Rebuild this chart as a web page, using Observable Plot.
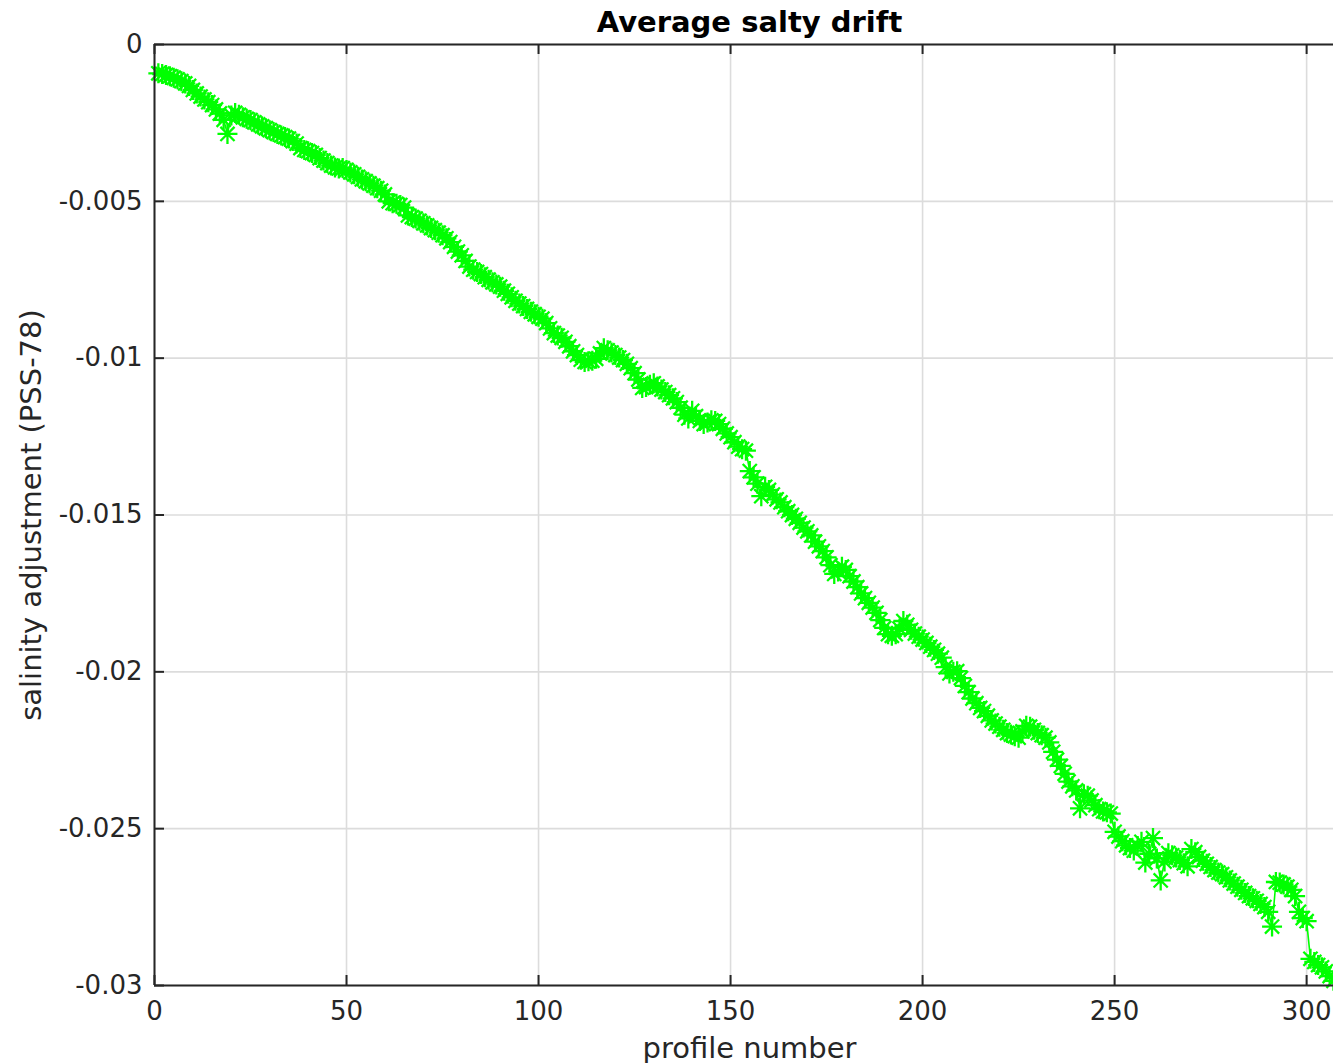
<!DOCTYPE html>
<html>
<head>
<meta charset="utf-8">
<script src="https://cdn.jsdelivr.net/npm/d3@7"></script>
<script src="https://cdn.jsdelivr.net/npm/@observablehq/plot@0.6"></script>
<style>
  html, body { margin: 0; padding: 0; background: #fff; overflow: hidden; }
  #chart svg { display: block; }
</style>
</head>
<body>
<div id="chart"></div>
<script>
const title = "Average salty drift";
const xLabel = "profile number";
const yLabel = "salinity adjustment (PSS-78)";
const xTicks = [0, 50, 100, 150, 200, 250, 300];
const yTicks = [0, -0.005, -0.01, -0.015, -0.02, -0.025, -0.03];
const xDomain = [0, 307];
const yDomain = [-0.03, 0];

const drift = [
  -0.00092,-0.00094,-0.00097,-0.00101,-0.00106,-0.00111,-0.00117,-0.00124,-0.00132,-0.00145,
  -0.00156,-0.00166,-0.00175,-0.00184,-0.00193,-0.00207,-0.00220,-0.00240,-0.00285,-0.00226,
  -0.00218,-0.00224,-0.00232,-0.00237,-0.00241,-0.00248,-0.00255,-0.00261,-0.00267,-0.00273,
  -0.00279,-0.00285,-0.00290,-0.00295,-0.00300,-0.00308,-0.00316,-0.00330,-0.00336,-0.00340,
  -0.00346,-0.00352,-0.00362,-0.00370,-0.00378,-0.00386,-0.00392,-0.00395,-0.00394,-0.00400,
  -0.00408,-0.00414,-0.00422,-0.00430,-0.00436,-0.00443,-0.00450,-0.00458,-0.00466,-0.00478,
  -0.00500,-0.00506,-0.00508,-0.00512,-0.00520,-0.00545,-0.00550,-0.00555,-0.00562,-0.00570,
  -0.00577,-0.00585,-0.00592,-0.00600,-0.00608,-0.00618,-0.00630,-0.00645,-0.00660,-0.00672,
  -0.00690,-0.00708,-0.00718,-0.00725,-0.00732,-0.00742,-0.00750,-0.00758,-0.00765,-0.00772,
  -0.00785,-0.00795,-0.00806,-0.00817,-0.00826,-0.00834,-0.00843,-0.00852,-0.00860,-0.00868,
  -0.00874,-0.00888,-0.00905,-0.00920,-0.00928,-0.00935,-0.00948,-0.00962,-0.00978,-0.00990,
  -0.01005,-0.01012,-0.01010,-0.01008,-0.01002,-0.00985,-0.00968,-0.00975,-0.00982,-0.00990,
  -0.00998,-0.01006,-0.01018,-0.01032,-0.01048,-0.01068,-0.01095,-0.01092,-0.01085,-0.01080,
  -0.01090,-0.01100,-0.01108,-0.01118,-0.01128,-0.01140,-0.01158,-0.01180,-0.01192,-0.01168,
  -0.01185,-0.01200,-0.01210,-0.01205,-0.01198,-0.01200,-0.01210,-0.01225,-0.01240,-0.01252,
  -0.01268,-0.01282,-0.01290,-0.01295,-0.01360,-0.01380,-0.01400,-0.01440,-0.01410,-0.01420,
  -0.01435,-0.01450,-0.01460,-0.01475,-0.01488,-0.01500,-0.01512,-0.01525,-0.01540,-0.01552,
  -0.01565,-0.01585,-0.01600,-0.01615,-0.01635,-0.01660,-0.01688,-0.01680,-0.01665,-0.01675,
  -0.01695,-0.01712,-0.01730,-0.01750,-0.01765,-0.01780,-0.01795,-0.01812,-0.01835,-0.01860,
  -0.01880,-0.01885,-0.01880,-0.01862,-0.01838,-0.01850,-0.01866,-0.01878,-0.01888,-0.01897,
  -0.01908,-0.01920,-0.01930,-0.01942,-0.01955,-0.01985,-0.02005,-0.02000,-0.01998,-0.02020,
  -0.02045,-0.02065,-0.02085,-0.02100,-0.02115,-0.02125,-0.02140,-0.02155,-0.02165,-0.02175,
  -0.02185,-0.02195,-0.02200,-0.02205,-0.02210,-0.02190,-0.02172,-0.02175,-0.02185,-0.02195,
  -0.02202,-0.02210,-0.02225,-0.02255,-0.02280,-0.02300,-0.02325,-0.02350,-0.02365,-0.02378,
  -0.02435,-0.02390,-0.02395,-0.02410,-0.02425,-0.02438,-0.02445,-0.02448,-0.02452,-0.02510,
  -0.02525,-0.02540,-0.02553,-0.02562,-0.02570,-0.02555,-0.02542,-0.02608,-0.02580,-0.02530,
  -0.02595,-0.02665,-0.02605,-0.02578,-0.02585,-0.02592,-0.02600,-0.02610,-0.02620,-0.02565,
  -0.02575,-0.02590,-0.02602,-0.02612,-0.02622,-0.02632,-0.02640,-0.02645,-0.02655,-0.02665,
  -0.02675,-0.02685,-0.02695,-0.02705,-0.02715,-0.02722,-0.02730,-0.02740,-0.02750,-0.02765,
  -0.02812,-0.02670,-0.02672,-0.02678,-0.02685,-0.02695,-0.02715,-0.02765,-0.02785,-0.02795,
  -0.02915,-0.02925,-0.02935,-0.02942,-0.02955,-0.02970,-0.02985
];
const profiles = drift.map((_, i) => i + 1);
const data = profiles.map((p, i) => ({profile: p, value: drift[i]}));

// MATLAB-style '*' marker: plus + cross (8 arms)
const asterisk = {
  draw(ctx, size) {
    const r = Math.sqrt(size / Math.PI);
    const d = r * Math.SQRT1_2;
    ctx.moveTo(-r, 0); ctx.lineTo(r, 0);
    ctx.moveTo(0, -r); ctx.lineTo(0, r);
    ctx.moveTo(-d, -d); ctx.lineTo(d, d);
    ctx.moveTo(-d, d); ctx.lineTo(d, -d);
  }
};

const W = 1333, H = 1063;
const mL = 154, mR = 0, mT = 44, mB = 78;
const plotW = W - mL - mR, plotH = H - mT - mB;
const axisColor = "#262626";
const gridColor = "#dcdcdc";
const tickLen = 10;

const chart = Plot.plot({
  width: W,
  height: H,
  marginLeft: mL,
  marginRight: mR,
  marginTop: mT,
  marginBottom: mB,
  style: {fontFamily: "DejaVu Sans", background: "#fff", overflow: "visible"},
  x: {domain: xDomain, ticks: xTicks, label: null},
  y: {domain: yDomain, ticks: yTicks, label: null},
  marks: [
    // grid
    Plot.ruleX(xTicks, {x: d => d, stroke: gridColor, strokeWidth: 1.6}),
    Plot.ruleY(yTicks, {y: d => d, stroke: gridColor, strokeWidth: 1.6}),
    // data line and markers
    Plot.line(data, {x: "profile", y: "value", stroke: "#00ff00", strokeWidth: 1.6}),
    Plot.dot(data, {x: "profile", y: "value", symbol: asterisk, r: 10, stroke: "#00ff00", strokeWidth: 2.3}),
    // box lines
    Plot.ruleY([yDomain[1]], {stroke: axisColor, strokeWidth: 2}),
    Plot.ruleY([yDomain[0]], {stroke: axisColor, strokeWidth: 2}),
    Plot.ruleX([xDomain[0]], {stroke: axisColor, strokeWidth: 2}),
    // inward ticks
    Plot.tickX(xTicks, {x: d => d, insetTop: plotH - tickLen, stroke: axisColor, strokeWidth: 2}),
    Plot.tickX(xTicks, {x: d => d, insetBottom: plotH - tickLen, stroke: axisColor, strokeWidth: 2}),
    Plot.tickY(yTicks, {y: d => d, insetRight: plotW - tickLen, stroke: axisColor, strokeWidth: 2}),
    // tick labels
    Plot.axisX({ticks: xTicks, tickSize: 0, tickPadding: 16, tickFormat: d => String(d), fontSize: 26, color: axisColor, label: null}),
    Plot.axisY({ticks: yTicks, tickSize: 0, tickPadding: 12, tickFormat: d => String(d), fontSize: 26, color: axisColor, label: null}),
    // axis titles and chart title
    Plot.text([xLabel], {text: d => d, frameAnchor: "bottom", lineAnchor: "middle", dx: 5.5, dy: 63, fontSize: 29, fill: axisColor}),
    Plot.text([yLabel], {text: d => d, frameAnchor: "left", textAnchor: "middle", lineAnchor: "middle", rotate: -90, dx: -123, fontSize: 29, fill: axisColor}),
    Plot.text([title], {text: d => d, frameAnchor: "top", lineAnchor: "middle", dx: 5.5, dy: -22, fontSize: 29, fontWeight: "bold", fill: "#000"})
  ]
});
document.getElementById("chart").appendChild(chart);
</script>
</body>
</html>
